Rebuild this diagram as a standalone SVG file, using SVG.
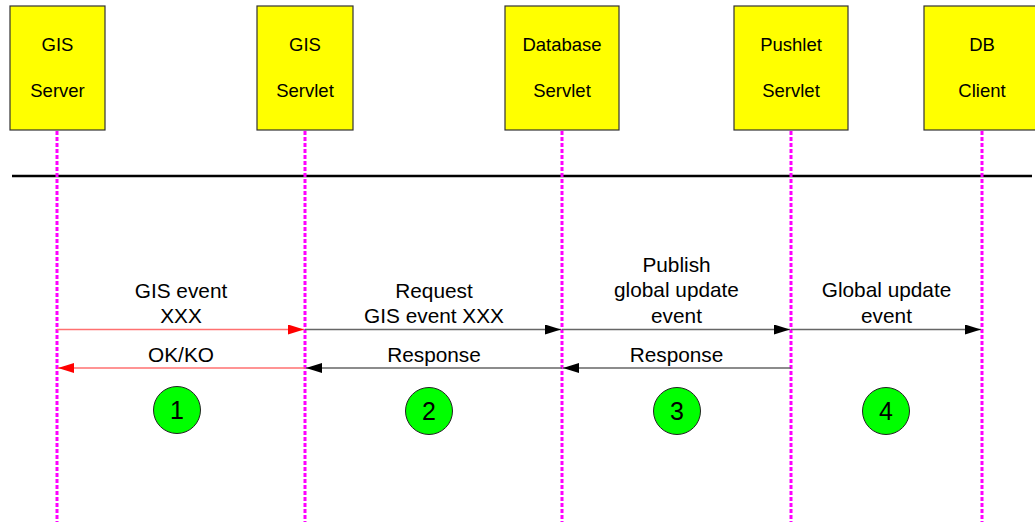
<svg xmlns="http://www.w3.org/2000/svg" width="1035" height="522" viewBox="0 0 1035 522">
  <style>
    .box { fill: #ffff00; stroke: #333333; stroke-width: 1.2; }
    .boxlabel { font-family: "Liberation Sans", Arial, sans-serif; font-size: 18.5px; fill: #000; text-anchor: middle; }
    .label { font-family: "Liberation Sans", Arial, sans-serif; font-size: 20.8px; fill: #000; text-anchor: middle; }
    .life { stroke: #ff00ff; stroke-width: 3; stroke-dasharray: 4 2; fill: none; }
    .msg { stroke: #666666; stroke-width: 1.5; fill: none; }
    .msg-red { stroke: #ff7070; stroke-width: 1.5; fill: none; }
    .step { fill: #00ff00; stroke: #222222; stroke-width: 1; }
    .steplabel { font-family: "Liberation Sans", Arial, sans-serif; font-size: 25px; fill: #000; text-anchor: middle; }
  </style>
  <defs>
    <marker id="head" viewBox="0 0 16 10" refX="16" refY="5" markerWidth="16" markerHeight="10" markerUnits="userSpaceOnUse" orient="auto">
      <path d="M0,0 L16,5 L0,10 Z" fill="#000000"/>
    </marker>
    <marker id="head-red" viewBox="0 0 16 10" refX="16" refY="5" markerWidth="16" markerHeight="10" markerUnits="userSpaceOnUse" orient="auto">
      <path d="M0,0 L16,5 L0,10 Z" fill="#ff0000"/>
    </marker>
  </defs>

  <rect width="1035" height="522" fill="#ffffff"/>

  <!-- Participants -->
  <g id="gis-server">
    <rect class="box" x="10" y="6" width="95" height="124"/>
    <text class="boxlabel" x="57.5" y="51">GIS</text>
    <text class="boxlabel" x="57.5" y="97">Server</text>
  </g>
  <g id="gis-servlet">
    <rect class="box" x="257" y="6" width="96" height="124"/>
    <text class="boxlabel" x="305" y="51">GIS</text>
    <text class="boxlabel" x="305" y="97">Servlet</text>
  </g>
  <g id="database-servlet">
    <rect class="box" x="505" y="6" width="114" height="124"/>
    <text class="boxlabel" x="562" y="51">Database</text>
    <text class="boxlabel" x="562" y="97">Servlet</text>
  </g>
  <g id="pushlet-servlet">
    <rect class="box" x="734" y="6" width="114" height="124"/>
    <text class="boxlabel" x="791" y="51">Pushlet</text>
    <text class="boxlabel" x="791" y="97">Servlet</text>
  </g>
  <g id="db-client">
    <rect class="box" x="924" y="6" width="116" height="124"/>
    <text class="boxlabel" x="982" y="51">DB</text>
    <text class="boxlabel" x="982" y="97">Client</text>
  </g>

  <!-- Separator -->
  <line x1="12" y1="176" x2="1032" y2="176" stroke="#000000" stroke-width="2.5"/>

  <!-- Lifelines -->
  <g id="lifelines">
    <line class="life" x1="57" y1="131" x2="57" y2="522"/>
    <line class="life" x1="305" y1="131" x2="305" y2="522"/>
    <line class="life" x1="562" y1="131" x2="562" y2="522"/>
    <line class="life" x1="791" y1="131" x2="791" y2="522"/>
    <line class="life" x1="982" y1="131" x2="982" y2="522"/>
  </g>

  <!-- Messages -->
  <g id="connectors">
    <line class="msg-red" x1="57" y1="329.5" x2="304" y2="329.5" marker-end="url(#head-red)"/>
    <line class="msg" x1="305" y1="329.5" x2="561" y2="329.5" marker-end="url(#head)"/>
    <line class="msg" x1="562" y1="329.5" x2="790" y2="329.5" marker-end="url(#head)"/>
    <line class="msg" x1="791" y1="329.5" x2="981" y2="329.5" marker-end="url(#head)"/>
    <line class="msg-red" x1="305" y1="368" x2="58" y2="368" marker-end="url(#head-red)"/>
    <line class="msg" x1="562" y1="368" x2="306" y2="368" marker-end="url(#head)"/>
    <line class="msg" x1="791" y1="368" x2="563" y2="368" marker-end="url(#head)"/>
  </g>

  <!-- Message labels -->
  <g id="labels">
    <text class="label" x="181" y="298">GIS event</text>
    <text class="label" x="181" y="323">XXX</text>
    <text class="label" x="181" y="362">OK/KO</text>
    <text class="label" x="434" y="298">Request</text>
    <text class="label" x="434" y="323">GIS event XXX</text>
    <text class="label" x="434" y="362">Response</text>
    <text class="label" x="676.5" y="272">Publish</text>
    <text class="label" x="676.5" y="297">global update</text>
    <text class="label" x="676.5" y="323">event</text>
    <text class="label" x="676.5" y="362">Response</text>
    <text class="label" x="886.5" y="297">Global update</text>
    <text class="label" x="886.5" y="323">event</text>
  </g>

  <!-- Step markers -->
  <g id="step-1">
    <circle class="step" cx="177" cy="410" r="23.5"/>
    <text class="steplabel" x="177" y="419">1</text>
  </g>
  <g id="step-2">
    <circle class="step" cx="429" cy="411" r="23.5"/>
    <text class="steplabel" x="429" y="420">2</text>
  </g>
  <g id="step-3">
    <circle class="step" cx="677" cy="411" r="23.5"/>
    <text class="steplabel" x="677" y="420">3</text>
  </g>
  <g id="step-4">
    <circle class="step" cx="886" cy="411" r="23.5"/>
    <text class="steplabel" x="886" y="420">4</text>
  </g>
</svg>
